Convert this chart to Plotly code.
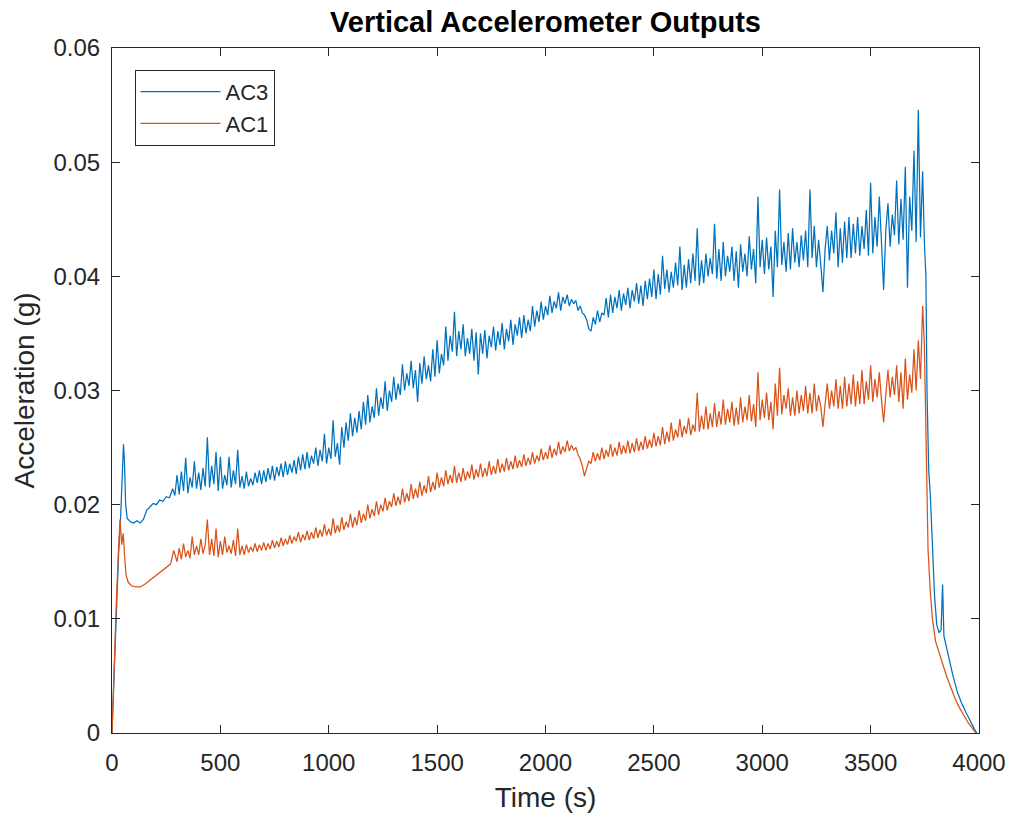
import plotly.graph_objects as go

# ---------------- data (accelerations in milli-g, times in seconds) ----------------
AC3_TIME_START = [0, 5, 10, 20, 30, 40, 47, 53, 58, 63, 70, 85, 100, 115, 130, 145, 160, 175, 190, 205,
                  220, 235, 250, 265, 280, 290]
AC3_MG_START = [0, 2.5, 6, 11, 15.5, 19, 22.5, 25.3, 23.5, 20, 18.8, 18.5, 18.4, 18.6, 18.4, 18.7, 19.5, 19.8,
                20.1, 20.0, 20.4, 20.3, 20.7, 20.6, 21.4, 20.8]

AC1_TIME_START = [0, 5, 10, 20, 30, 37, 45, 52, 58, 65, 75, 90, 110, 130, 150, 170, 190, 210, 230, 250, 270, 285]
AC1_MG_START = [0, 3, 6.5, 11.5, 16, 18.7, 16.5, 17.5, 15.5, 13.8, 13.2, 12.9, 12.8, 12.8, 13.0, 13.3, 13.6, 13.9,
                14.2, 14.5, 14.8, 16.0]

TIME_MID = [
    300, 310, 320, 330, 340, 350, 360, 370, 380, 390,
    400, 410, 420, 430, 440, 450, 460, 470, 480, 490,
    500, 510, 520, 530, 540, 550, 560, 570, 580, 590,
    600, 610, 620, 630, 640, 650, 660, 670, 680, 690,
    700, 710, 720, 730, 740, 750, 760, 770, 780, 790,
    800, 810, 820, 830, 840, 850, 860, 870, 880, 890,
    900, 910, 920, 930, 940, 950, 960, 970, 980, 990,
    1000, 1010, 1020, 1030, 1040, 1050, 1060, 1070, 1080, 1090,
    1100, 1110, 1120, 1130, 1140, 1150, 1160, 1170, 1180, 1190,
    1200, 1210, 1220, 1230, 1240, 1250, 1260, 1270, 1280, 1290,
    1300, 1310, 1320, 1330, 1340, 1350, 1360, 1370, 1380, 1390,
    1400, 1410, 1420, 1430, 1440, 1450, 1460, 1470, 1480, 1490,
    1500, 1510, 1520, 1530, 1540, 1550, 1560, 1570, 1580, 1590,
    1600, 1610, 1620, 1630, 1640, 1650, 1660, 1670, 1680, 1690,
    1700, 1710, 1720, 1730, 1740, 1750, 1760, 1770, 1780, 1790,
    1800, 1810, 1820, 1830, 1840, 1850, 1860, 1870, 1880, 1890,
    1900, 1910, 1920, 1930, 1940, 1950, 1960, 1970, 1980, 1990,
    2000, 2010, 2020, 2030, 2040, 2050, 2060, 2070, 2080, 2090,
    2100, 2110, 2120, 2130, 2140, 2150, 2160, 2170, 2180, 2190,
    2200, 2210, 2220, 2230, 2240, 2250, 2260, 2270, 2280, 2290,
    2300, 2310, 2320, 2330, 2340, 2350, 2360, 2370, 2380, 2390,
    2400, 2410, 2420, 2430, 2440, 2450, 2460, 2470, 2480, 2490,
    2500, 2510, 2520, 2530, 2540, 2550, 2560, 2570, 2580, 2590,
    2600, 2610, 2620, 2630, 2640, 2650, 2660, 2670, 2680, 2690,
    2700, 2710, 2720, 2730, 2740, 2750, 2760, 2770, 2780, 2790,
    2800, 2810, 2820, 2830, 2840, 2850, 2860, 2870, 2880, 2890,
    2900, 2910, 2920, 2930, 2940, 2950, 2960, 2970, 2980, 2990,
    3000, 3010, 3020, 3030, 3040, 3050, 3060, 3070, 3080, 3090,
    3100, 3110, 3120, 3130, 3140, 3150, 3160, 3170, 3180, 3190,
    3200, 3210, 3220, 3230, 3240, 3250, 3260, 3270, 3280, 3290,
    3300, 3310, 3320, 3330, 3340, 3350, 3360, 3370, 3380, 3390,
    3400, 3410, 3420, 3430, 3440, 3450, 3460, 3470, 3480, 3490,
    3500, 3510, 3520, 3530, 3540, 3550, 3560, 3570, 3580, 3590,
    3600, 3610, 3620, 3630, 3640, 3650, 3660, 3670, 3680, 3690,
    3700, 3710, 3720, 3730, 3740]

AC3_MG_MID = [
    22.6, 20.9, 22.9, 21.2, 24.1, 21.0, 22.4, 21.5, 23.8, 21.4,
    22.8, 21.3, 23.2, 21.6, 25.9, 21.5, 23.4, 21.8, 24.6, 21.2,
    24.2, 21.4, 22.6, 21.7, 24.2, 21.5, 23.0, 21.8, 24.8, 21.5,
    22.5, 21.4, 22.9, 21.6, 22.3, 21.7, 22.8, 21.9, 23.0, 21.8,
    23.0, 22.0, 23.2, 22.2, 23.4, 22.1, 23.3, 22.5, 23.6, 22.4,
    23.8, 22.6, 23.6, 22.8, 23.9, 22.7, 24.2, 23.0, 24.4, 23.1,
    24.6, 23.2, 24.3, 23.6, 25.0, 23.4, 24.8, 23.8, 26.2, 23.6,
    25.0, 24.0, 27.4, 24.2, 25.4, 23.5, 26.8, 25.0, 27.2, 25.6,
    28.0, 26.0, 27.6, 26.3, 28.2, 26.6, 29.0, 27.0, 29.6, 27.2,
    28.6, 27.6, 30.2, 27.8, 29.4, 28.4, 30.8, 28.2, 30.0, 29.0,
    31.2, 29.2, 30.6, 29.6, 32.3, 30.0, 31.5, 30.4, 32.6, 30.2,
    31.8, 29.0, 32.4, 30.6, 33.0, 31.0, 32.2, 30.8, 33.6, 31.2,
    34.4, 31.5, 33.2, 32.2, 35.6, 32.6, 34.8, 33.4, 36.9, 33.0,
    35.2, 33.6, 35.8, 33.0, 34.6, 33.2, 35.4, 32.6, 35.1, 31.4,
    35.0, 33.2, 35.3, 32.8, 34.8, 33.8, 35.6, 33.5, 35.2, 34.0,
    35.9, 33.6, 35.4, 34.3, 36.2, 34.0, 35.8, 34.8, 36.4, 34.6,
    36.6, 35.0, 36.2, 35.2, 37.4, 35.6, 37.0, 36.0, 37.8, 36.2,
    37.4, 36.6, 38.3, 36.8, 37.8, 37.2, 38.6, 37.0, 38.2, 37.6,
    38.4, 37.4, 38.0, 37.6, 37.9, 37.0, 37.4, 36.8, 36.6, 36.2,
    35.4, 35.2, 36.4, 35.8, 37.0, 36.0, 36.8, 36.6, 38.1, 36.4,
    38.4, 36.8, 38.2, 37.2, 38.8, 37.0, 38.5, 37.5, 39.0, 37.2,
    38.8, 37.8, 39.4, 37.6, 39.2, 37.4, 39.6, 38.0, 39.8, 38.2,
    40.6, 38.0, 40.2, 38.4, 41.8, 38.9, 40.6, 38.6, 40.4, 39.0,
    41.2, 39.2, 42.6, 38.8, 41.0, 39.0, 41.5, 39.4, 42.0, 39.6,
    44.2, 39.2, 41.4, 39.4, 42.0, 40.0, 41.6, 40.2, 44.6, 39.8,
    42.4, 39.6, 43.0, 40.0, 41.8, 40.4, 42.6, 39.6, 42.2, 39.0,
    42.8, 40.4, 42.0, 40.0, 43.5, 40.6, 42.4, 39.4, 47.0, 40.8,
    43.2, 40.2, 43.4, 40.6, 42.6, 38.2, 44.0, 40.8, 47.6, 41.0,
    43.0, 40.4, 43.8, 40.6, 44.2, 41.2, 43.0, 40.8, 43.6, 41.4,
    44.0, 40.8, 47.6, 41.6, 44.4, 40.8, 43.2, 41.0, 38.6, 42.4,
    44.4, 41.4, 44.0, 42.0, 45.6, 40.8, 44.2, 41.2, 44.8, 41.6,
    45.2, 41.6, 44.6, 42.0, 45.2, 41.8, 44.4, 42.4, 45.8, 41.8,
    48.2, 42.0, 45.2, 42.6, 47.0, 43.0, 38.8, 44.0, 46.4, 42.6,
    45.4, 43.6, 48.4, 42.8, 46.8, 43.2, 49.6, 39.0, 47.0, 44.0,
    51.0, 43.0, 54.6, 43.4, 49.2]

AC1_MG_MID = [
    15.0, 16.2, 15.2, 16.6, 15.4, 16.0, 15.3, 17.2, 15.6, 16.4,
    15.6, 17.0, 15.7, 16.5, 18.7, 15.6, 17.0, 15.5, 17.9, 15.4,
    16.8, 15.6, 17.2, 15.8, 16.4, 15.7, 16.9, 15.5, 17.9, 15.6,
    16.4, 15.6, 16.5, 15.8, 16.3, 15.9, 16.6, 15.9, 16.5, 16.0,
    16.7, 16.0, 16.6, 16.1, 16.9, 16.2, 16.8, 16.3, 17.1, 16.4,
    17.0, 16.5, 17.3, 16.6, 17.2, 16.8, 17.6, 16.7, 17.4, 16.9,
    17.7, 16.9, 17.6, 17.0, 18.0, 17.1, 17.8, 17.2, 18.3, 17.3,
    17.9, 17.3, 18.8, 17.5, 18.2, 17.6, 18.9, 17.8, 18.5, 18.0,
    19.2, 18.0, 18.9, 18.2, 19.5, 18.4, 19.2, 18.6, 20.0, 18.8,
    19.6, 19.0, 20.3, 19.1, 20.0, 19.4, 20.6, 19.5, 20.3, 19.8,
    21.0, 19.9, 20.7, 20.0, 21.4, 20.2, 21.0, 20.3, 21.8, 20.5,
    21.4, 20.6, 22.0, 20.8, 21.7, 21.0, 22.5, 21.1, 22.0, 21.3,
    22.8, 21.5, 22.4, 21.6, 23.0, 21.8, 22.6, 21.9, 23.4, 21.9,
    22.8, 22.0, 23.2, 22.1, 22.9, 22.3, 23.5, 22.2, 23.1, 22.4,
    23.6, 22.4, 23.2, 22.5, 23.8, 22.6, 23.4, 22.7, 24.0, 22.8,
    23.6, 22.9, 24.1, 23.0, 23.8, 23.1, 24.3, 23.2, 23.9, 23.3,
    24.4, 23.4, 24.1, 23.5, 24.6, 23.6, 24.3, 23.8, 24.9, 23.9,
    24.6, 24.0, 25.2, 24.1, 24.9, 24.3, 25.5, 24.4, 25.1, 24.6,
    25.6, 24.7, 25.2, 24.8, 25.0, 24.4, 24.0, 23.4, 22.5, 23.2,
    23.8, 23.6, 24.6, 23.8, 24.5, 23.9, 25.0, 24.0, 24.8, 24.2,
    25.3, 24.2, 25.0, 24.3, 25.5, 24.4, 25.2, 24.5, 25.6, 24.5,
    25.4, 24.6, 25.8, 24.7, 25.5, 24.8, 26.0, 24.9, 25.7, 25.0,
    26.3, 25.1, 26.0, 25.2, 26.8, 25.3, 26.4, 25.5, 27.2, 25.6,
    26.6, 25.9, 27.5, 25.9, 26.9, 26.2, 27.6, 26.1, 27.0, 26.4,
    29.8, 26.4, 27.8, 26.6, 28.6, 26.6, 28.0, 26.8, 28.9, 26.8,
    28.2, 27.0, 29.2, 27.0, 28.4, 27.2, 29.0, 26.9, 28.5, 27.0,
    29.4, 27.2, 28.6, 27.4, 29.6, 27.3, 28.8, 26.8, 31.6, 27.4,
    29.2, 27.6, 29.8, 27.4, 29.0, 26.6, 30.6, 27.8, 32.0, 27.9,
    29.6, 28.4, 30.2, 27.8, 29.4, 27.8, 30.0, 28.0, 29.6, 28.2,
    30.4, 28.0, 29.8, 28.0, 30.6, 28.2, 29.6, 28.6, 26.8, 28.8,
    30.6, 28.4, 30.0, 28.6, 31.0, 28.4, 30.4, 28.4, 31.2, 28.6,
    30.6, 28.8, 31.4, 28.6, 30.8, 28.8, 31.8, 28.8, 30.8, 29.2,
    32.2, 29.0, 31.0, 29.4, 31.6, 29.2, 27.2, 29.6, 31.8, 29.4,
    31.2, 29.6, 32.2, 29.0, 31.6, 28.4, 32.8, 29.2, 31.4, 29.8,
    33.6, 30.0, 34.4, 31.0, 37.4]

AC3_TIME_END = [3748, 3755, 3760, 3768, 3775, 3785, 3795, 3805, 3815, 3825, 3832, 3838, 3850, 3865, 3880,
                3900, 3920, 3940, 3960, 3980, 3990]
AC3_MG_END = [43.0, 40.0, 30.0, 23.0, 21.0, 16.0, 12.0, 9.5, 8.8, 9.0, 13.0, 8.5, 7.5, 6.0, 5.0,
              3.6, 2.6, 1.8, 1.0, 0.3, 0.0]

AC1_TIME_END = [3748, 3753, 3758, 3765, 3775, 3785, 3800, 3815, 3830, 3850, 3870, 3890, 3910, 3930, 3950,
                3970, 3985]
AC1_MG_END = [34.0, 28.0, 21.0, 16.0, 12.5, 10.0, 8.0, 7.0, 6.2, 5.0, 4.0, 3.0, 2.2, 1.5, 0.9, 0.4, 0.0]

SERIES_NAMES = ["AC3", "AC1"]
X_TICKS = [0, 500, 1000, 1500, 2000, 2500, 3000, 3500, 4000]
Y_TICKS = [0, 0.01, 0.02, 0.03, 0.04, 0.05, 0.06]
Y_TICK_TEXT = ["0", "0.01", "0.02", "0.03", "0.04", "0.05", "0.06"]

# ---------------- assemble ----------------
t_ac3 = AC3_TIME_START + TIME_MID + AC3_TIME_END
g_ac3 = [v / 1000 for v in AC3_MG_START + AC3_MG_MID + AC3_MG_END]
t_ac1 = AC1_TIME_START + TIME_MID + AC1_TIME_END
g_ac1 = [v / 1000 for v in AC1_MG_START + AC1_MG_MID + AC1_MG_END]

BLUE = "#0072BD"
ORANGE = "#D95319"
AX = "#262626"
FONT = "Liberation Sans, Arial, Helvetica, sans-serif"

fig = go.Figure()
fig.add_trace(go.Scatter(x=t_ac3, y=g_ac3, mode="lines", name=SERIES_NAMES[0],
                         line=dict(color=BLUE, width=1.25), legendgroup="a"))
fig.add_trace(go.Scatter(x=t_ac1, y=g_ac1, mode="lines", name=SERIES_NAMES[1],
                         line=dict(color=ORANGE, width=1.25), legendgroup="b"))

axis_common = dict(
    showgrid=False, zeroline=False, showline=True, linecolor=AX, linewidth=1,
    mirror="allticks", ticks="inside", ticklen=8, tickwidth=1, tickcolor=AX,
    tickfont=dict(family=FONT, size=24, color=AX), automargin=False,
)

fig.update_layout(
    width=1011, height=817,
    margin=dict(l=112, r=32, t=48, b=84),
    paper_bgcolor="white", plot_bgcolor="white",
    font=dict(family=FONT, color=AX),
    title=dict(text="Vertical Accelerometer Outputs", x=0.5, xref="paper",
               y=1 - 22 / 817, yref="container", yanchor="middle", xanchor="center",
               font=dict(family=FONT, size=29, color="black", weight="bold")),
    xaxis=dict(range=[0, 4000], tickvals=X_TICKS, ticktext=[str(v) for v in X_TICKS],
               title=dict(text="Time (s)", font=dict(family=FONT, size=28, color=AX), standoff=12),
               ticklabelstandoff=8, **axis_common),
    yaxis=dict(range=[0, 0.06], tickvals=Y_TICKS, ticktext=Y_TICK_TEXT,
               title=dict(text="Acceleration (g)", font=dict(family=FONT, size=28, color=AX), standoff=10),
               ticklabelstandoff=6, **axis_common),
    showlegend=True,
    legend=dict(x=0.026, y=0.968, xanchor="left", yanchor="top",
                bgcolor="white", bordercolor=AX, borderwidth=1,
                font=dict(family=FONT, size=22, color=AX),
                itemwidth=80, traceorder="grouped", tracegroupgap=0),
)

fig.write_html("out.html")
